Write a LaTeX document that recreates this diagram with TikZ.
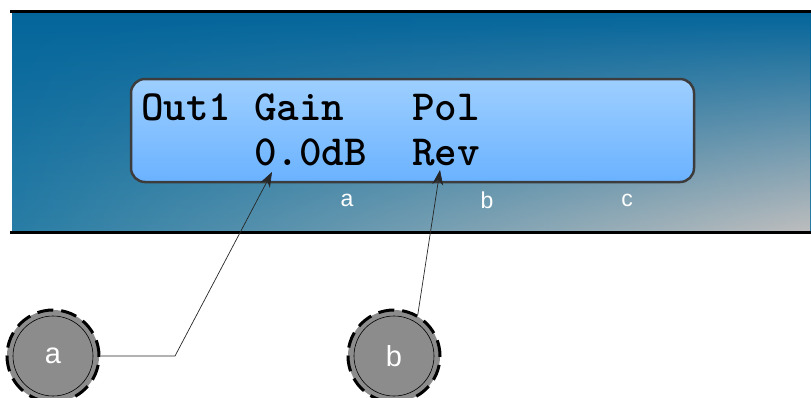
\documentclass[tikz,border=0pt]{standalone}
\usepackage{fontspec}
\setmainfont{Liberation Sans}
\usetikzlibrary{arrows.meta,fadings}

\definecolor{paneldark}{HTML}{03659B}
\definecolor{panelmid}{HTML}{287DA5}
\definecolor{panelsoft}{HTML}{3A85AA}
\definecolor{panelgrey}{HTML}{BEBEBE}
\definecolor{lcdtop}{HTML}{9ECFFF}
\definecolor{lcdbottom}{HTML}{6AB2FF}
\definecolor{lcdedge}{HTML}{3C3C3C}
\definecolor{knobgrey}{HTML}{8C8C8C}

\tikzfading[name=rightward, left color=transparent!100, right color=transparent!0]

\begin{document}
\begin{tikzpicture}[x=1pt,y=-1pt,>={Stealth[length=15pt,width=11pt]},
  lcd box/.style={draw=lcdedge,line width=2.5pt,rounded corners=14pt,
    top color=lcdtop,bottom color=lcdbottom,minimum width=563pt,minimum height=103pt},
  lcd text/.style={anchor=base west,inner sep=0pt,
    font=\ttfamily\bfseries\fontsize{43}{45}\selectfont},
  tag/.style={text=white,font=\fontsize{23}{26}\selectfont},
  knob/.style={circle,draw,fill=knobgrey,minimum size=92pt,inner sep=0pt,
    dash pattern=on 16pt off 8pt,line width=3pt,text=white,
    font=\fontsize{29}{31}\selectfont},
  lead/.style={->,line width=0.7pt,draw=black!85}]

  \useasboundingbox (0,0) rectangle (811,397);

  % front panel
  \shade[top color=paneldark,bottom color=panelmid] (12,11) rectangle (811,232);
  \shade[top color=paneldark,middle color=panelsoft,bottom color=panelgrey,
    path fading=rightward] (12,11) rectangle (811,232);
  \draw[line width=3pt] (10,11) -- (811,11);
  \draw[line width=3pt] (10,232) -- (811,232);

  % display
  \node[lcd box] (lcd) at (412.5,130.5) {};
  \node[lcd text] (row1) at (141,120) {Out1 Gain\ \ \ Pol};
  \node[lcd text] (row2) at (141,165) {\ \ \ \ \ 0.0dB\ \ Rev};

  \node[tag] (la) at (347,200) {a};
  \node[tag] (lb) at (487,200) {b};
  \node[tag] (lc) at (627,200) {c};

  % knobs
  \node[knob] (ka) at (53,356) {a};
  \node[knob] (kb) at (394,356) {b};
  \foreach \k in {ka,kb}
    \draw[line width=0.6pt] (\k) circle (40pt);

  \coordinate (bend) at (175,356);
  \coordinate (ta) at (272,172);
  \coordinate (tb) at (440,170);

  \draw[lead] (ka.east) -- (bend) -- (ta);
  \draw[lead] (kb.60) -- (tb);
\end{tikzpicture}
\end{document}
